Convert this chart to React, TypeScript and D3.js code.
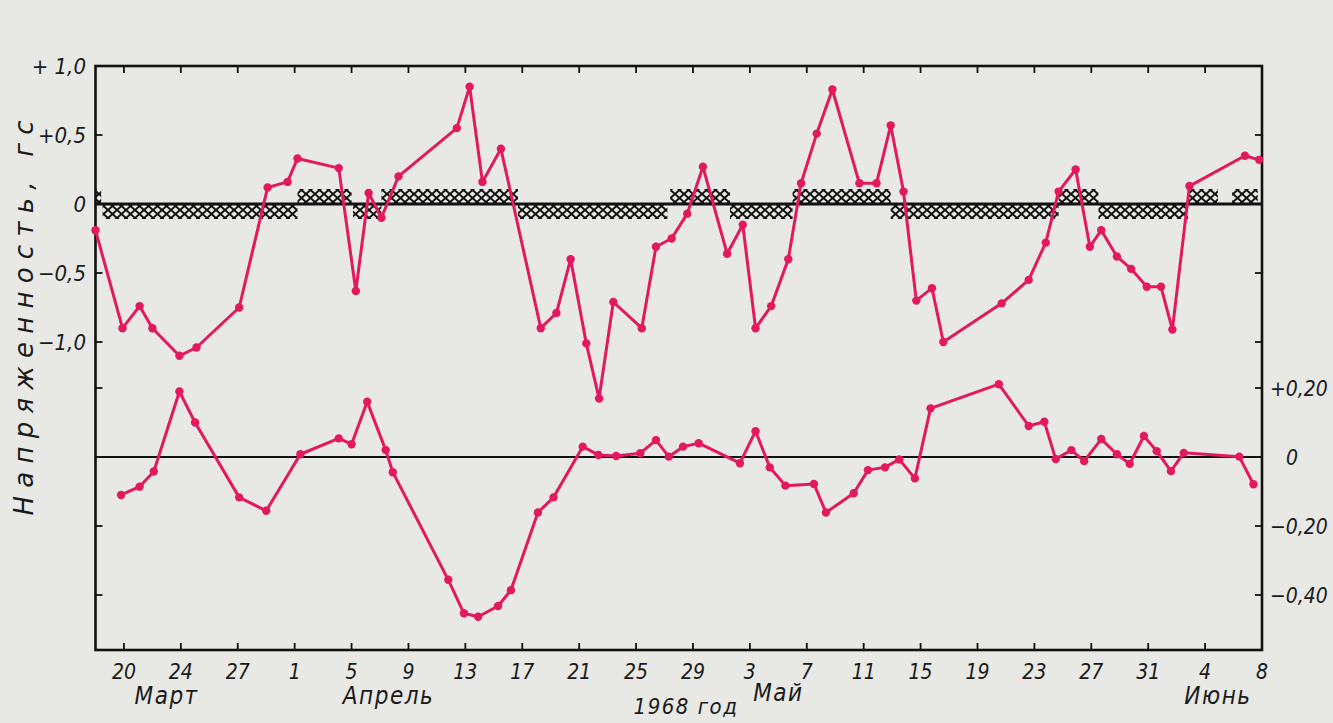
import React from 'react';
import * as d3 from 'd3';

// Days counted from 18 March 1968 (day 0) to 8 June 1968 (day 82)
const tickDays = [2, 6, 10, 14, 18, 22, 26, 30, 34, 38, 42, 46, 50, 54, 58, 62, 66, 70, 74, 78, 82];
const tickLabels = ['20', '24', '27', '1', '5', '9', '13', '17', '21', '25', '29', '3', '7', '11', '15', '19', '23', '27', '31', '4', '8'];
const monthNames = ['Март', 'Апрель', 'Май', 'Июнь'];
const monthDays = [5, 20.6, 48, 78.9];

const upperTicks = [1, 0.5, 0, -0.5, -1];
const upperTickLabels = ['+ 1,0', '+0,5', '0', '−0,5', '−1,0'];
const lowerTicks = [0.2, 0, -0.2, -0.4];
const lowerTickLabels = ['+0,20', '0', '−0,20', '−0,40'];

// Upper curve: field strength, гс
const upperDays = [0, 1.9, 3.1, 4.0, 5.9, 7.1, 10.1, 12.1, 13.5, 14.2, 17.1, 18.3, 19.2, 20.1, 21.3, 25.4, 26.3, 27.2, 28.5,
  31.3, 32.4, 33.4, 34.5, 35.4, 36.4, 38.4, 39.4, 40.5, 41.6, 42.7, 44.4, 45.5, 46.4, 47.5, 48.7, 49.6, 50.7, 51.8,
  53.7, 54.9, 55.9, 56.8, 57.7, 58.8, 59.6, 63.7, 65.6, 66.8, 67.7, 68.9, 69.9, 70.7, 71.8, 72.8, 73.9, 74.9, 75.7,
  76.9, 80.8, 81.8];
const upperValues = [-0.19, -0.9, -0.74, -0.9, -1.1, -1.04, -0.75, 0.12, 0.16, 0.33, 0.26, -0.63, 0.08, -0.1, 0.2, 0.55, 0.85, 0.16, 0.4,
  -0.9, -0.79, -0.4, -1.01, -1.41, -0.71, -0.9, -0.31, -0.25, -0.07, 0.27, -0.36, -0.15, -0.9, -0.74, -0.4, 0.15, 0.51, 0.83,
  0.15, 0.15, 0.57, 0.09, -0.7, -0.61, -1.0, -0.72, -0.55, -0.28, 0.09, 0.25, -0.31, -0.19, -0.38, -0.47, -0.6, -0.6, -0.91,
  0.13, 0.35, 0.32];

// Lower curve (right scale)
const lowerDays = [1.8, 3.1, 4.1, 5.9, 7.0, 10.1, 12.0, 14.4, 17.1, 18.0, 19.1, 20.4, 20.9, 24.8, 25.9, 26.9, 28.3, 29.2,
  31.1, 32.2, 34.25, 35.35, 36.6, 38.3, 39.4, 40.3, 41.3, 42.4, 45.3, 46.4, 47.4, 48.5, 50.5, 51.35, 53.3, 54.3, 55.5,
  56.5, 57.6, 58.7, 63.5, 65.6, 66.7, 67.5, 68.6, 69.5, 70.7, 71.8, 72.7, 73.7, 74.6, 75.6, 76.5, 80.4, 81.4];
const lowerValues = [-0.11, -0.086, -0.042, 0.19, 0.1, -0.117, -0.156, 0.008, 0.054, 0.037, 0.16, 0.02, -0.044, -0.356, -0.453, -0.463, -0.432, -0.386,
  -0.161, -0.117, 0.03, 0.006, 0.003, 0.011, 0.049, 0.001, 0.03, 0.04, -0.018, 0.075, -0.03, -0.083, -0.078, -0.161, -0.105, -0.038, -0.03,
  -0.007, -0.062, 0.141, 0.211, 0.09, 0.102, -0.006, 0.02, -0.012, 0.052, 0.008, -0.02, 0.061, 0.017, -0.041, 0.012, 0.001, -0.079];

// Sector polarity bands (hatched)
const sectorStart = [0, 0.5, 14.2, 18.1, 20.1, 29.7, 40.4, 44.6, 49.0, 55.9, 67.7, 70.5, 76.8, 79.9];
const sectorEnd = [0.4, 14.2, 18.0, 20.1, 29.7, 40.2, 44.6, 49.0, 55.9, 67.7, 70.5, 76.8, 78.9, 81.7];
const sectorSign = [1, -1, 1, -1, 1, -1, 1, -1, 1, -1, 1, -1, 1, 1];

const W = 1333;
const H = 723;
const LEFT = 95.5;
const RIGHT = 1262;
const TOP = 66;
const BOTTOM = 650;
const PINK = '#e3195e';
const FONT = "'DejaVu Sans Condensed', 'DejaVu Sans', sans-serif";

export default function App() {
  const x = d3.scaleLinear().domain([0, 82]).range([LEFT, RIGHT]);
  const yU = d3.scaleLinear().domain([-1, 1]).range([342, TOP]);
  const yL = d3.scaleLinear().domain([-0.4, 0.2]).range([595, 388]);

  const upperLine = d3.line<number>().x((_, i) => x(upperDays[i])).y((v) => yU(v));
  const lowerLine = d3.line<number>().x((_, i) => x(lowerDays[i])).y((v) => yL(v));

  const bandH = 15;
  const tickLen = 7;

  return (
    <svg width={W} height={H} style={{ position: 'absolute', left: 0, top: 0 }} fontFamily={FONT}>
      <defs>
        <pattern id="hatch" patternUnits="userSpaceOnUse" width="9" height="8" y="2">
          <path d="M-1,-0.9 L10,8.9 M10,-0.9 L-1,8.9" stroke="#111" strokeWidth="2" fill="none" />
        </pattern>
      </defs>
      <rect x={0} y={0} width={W} height={H} fill="#e8e8e4" />

      {/* hatched sector bands */}
      {sectorStart.map((s, i) => (
        <rect
          key={'sec' + i}
          x={x(s)}
          y={sectorSign[i] > 0 ? yU(0) - bandH : yU(0)}
          width={x(sectorEnd[i]) - x(s)}
          height={bandH}
          fill="url(#hatch)"
        />
      ))}

      {/* frame */}
      <rect x={LEFT} y={TOP} width={RIGHT - LEFT} height={BOTTOM - TOP} fill="none" stroke="#111" strokeWidth={2.6} />
      {/* zero lines */}
      <line x1={LEFT} x2={RIGHT} y1={yU(0)} y2={yU(0)} stroke="#111" strokeWidth={3} />
      <line x1={LEFT} x2={RIGHT} y1={yL(0)} y2={yL(0)} stroke="#111" strokeWidth={2} />

      {/* x ticks top and bottom */}
      {tickDays.map((d, i) => (
        <g key={'xt' + i}>
          <line x1={x(d)} x2={x(d)} y1={BOTTOM} y2={BOTTOM - tickLen} stroke="#111" strokeWidth={1.8} />
          {i < tickDays.length - 1 && (
            <line x1={x(d)} x2={x(d)} y1={TOP} y2={TOP + tickLen} stroke="#111" strokeWidth={1.8} />
          )}
          <text x={x(d)} y={679} textAnchor="middle" fontSize={21} fontStyle="italic" fill="#1a1a1a">
            {tickLabels[i]}
          </text>
        </g>
      ))}

      {/* upper y ticks (left) */}
      {upperTicks.map((v, i) => (
        <g key={'yu' + i}>
          {v !== 1 && v !== 0 && (
            <>
              <line x1={LEFT} x2={LEFT + tickLen} y1={yU(v)} y2={yU(v)} stroke="#111" strokeWidth={1.8} />
              <line x1={RIGHT} x2={RIGHT - tickLen} y1={yU(v)} y2={yU(v)} stroke="#111" strokeWidth={1.8} />
            </>
          )}
          <text x={86} y={yU(v) + 8} textAnchor="end" fontSize={22} fontStyle="italic" fill="#1a1a1a">
            {upperTickLabels[i]}
          </text>
        </g>
      ))}

      {/* lower y ticks (right) */}
      {lowerTicks.map((v, i) => (
        <g key={'yl' + i}>
          {v !== 0 && (
            <>
              <line x1={LEFT} x2={LEFT + tickLen} y1={yL(v)} y2={yL(v)} stroke="#111" strokeWidth={1.8} />
              <line x1={RIGHT} x2={RIGHT - tickLen} y1={yL(v)} y2={yL(v)} stroke="#111" strokeWidth={1.8} />
            </>
          )}
          <text
            x={v === 0 ? 1286 : 1270}
            y={yL(v) + 8}
            textAnchor="start"
            fontSize={21}
            fontStyle="italic"
            fill="#1a1a1a"
          >
            {lowerTickLabels[i]}
          </text>
        </g>
      ))}

      {/* curves */}
      <path d={upperLine(upperValues) || ''} fill="none" stroke={PINK} strokeWidth={3} strokeLinejoin="round" />
      {upperValues.map((v, i) => (
        <circle key={'up' + i} cx={x(upperDays[i])} cy={yU(v)} r={4.2} fill={PINK} />
      ))}
      <path d={lowerLine(lowerValues) || ''} fill="none" stroke={PINK} strokeWidth={3} strokeLinejoin="round" />
      {lowerValues.map((v, i) => (
        <circle key={'lo' + i} cx={x(lowerDays[i])} cy={yL(v)} r={4.2} fill={PINK} />
      ))}

      {/* month labels */}
      {monthNames.map((m, i) => (
        <text
          key={'m' + i}
          x={x(monthDays[i])}
          y={i === 2 ? 701 : 704}
          textAnchor="middle"
          fontSize={24}
          fontStyle="italic"
          letterSpacing={1.5}
          fill="#1a1a1a"
        >
          {m}
        </text>
      ))}
      <text x={686} y={714} textAnchor="middle" fontSize={22} fontStyle="italic" letterSpacing={1.5} fill="#1a1a1a">
        1968 год
      </text>

      {/* y axis title */}
      <text
        transform="translate(33,318) rotate(-90)"
        textAnchor="middle"
        fontSize={26}
        fontStyle="italic"
        fontFamily="'DejaVu Sans', sans-serif"
        textLength={395}
        lengthAdjust="spacing"
        fill="#1a1a1a"
      >
        Напряженность, гс
      </text>
    </svg>
  );
}
